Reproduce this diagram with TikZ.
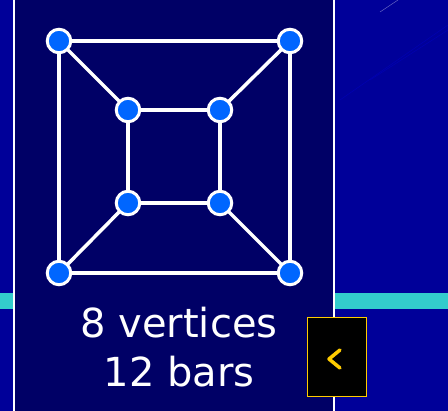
\documentclass[tikz,border=0pt]{standalone}
\usepackage{fontspec}
\setmainfont{DejaVu Sans}
\usetikzlibrary{backgrounds}
\pgfdeclarelayer{bottom}
\pgfsetlayers{bottom,background,main}
\definecolor{bgblue}{HTML}{000099}
\definecolor{panelblue}{HTML}{000066}
\definecolor{vertexblue}{HTML}{0066FF}
\definecolor{bandcyan}{HTML}{33CCCC}
\definecolor{btnyellow}{HTML}{FFCC00}
\tikzset{
  vertex/.style={circle,fill=vertexblue,draw=white,line width=3pt,minimum size=23.5pt,inner sep=0pt},
  bar/.style={draw=white,line width=3.5pt},
  caption/.style={text=white,font=\fontsize{40}{49}\selectfont,align=center}
}
\begin{document}
\begin{tikzpicture}[x=1pt,y=-1pt]
  \useasboundingbox (0,0) rectangle (448,411);
  \begin{pgfonlayer}{bottom}
    % 背景
    \fill[bgblue] (0,0) rectangle (448,411);
    \draw[blue!25!bgblue,line width=0.5pt] (340,100) -- (448,25);
    \draw[blue!25!bgblue,line width=0.5pt] (370,80) -- (448,30);
    \draw[white!40!bgblue,line width=0.5pt] (380,12) -- (398,0);
    % 青色横条
    \fill[bandcyan] (0,293) rectangle (448,309);
    % 面板
    \fill[panelblue] (14,0) rectangle (334,411);
    \draw[white,line width=1.5pt] (14,0) -- (14,411);
    \draw[white,line width=1.5pt] (334,0) -- (334,411);
  \end{pgfonlayer}
  % 顶点
  \node[vertex] (o1) at (59,41) {};
  \node[vertex] (o2) at (290,41) {};
  \node[vertex] (o3) at (290,273) {};
  \node[vertex] (o4) at (59,273) {};
  \node[vertex] (i1) at (128,110) {};
  \node[vertex] (i2) at (220,110) {};
  \node[vertex] (i3) at (220,203) {};
  \node[vertex] (i4) at (128,203) {};
  % 杆
  \begin{pgfonlayer}{background}
    \draw[bar] (o1.center) -- (o2.center) -- (o3.center) -- (o4.center) -- cycle;
    \draw[bar] (i1.center) -- (i2.center) -- (i3.center) -- (i4.center) -- cycle;
    \foreach \k in {1,...,4}
      \draw[bar] (o\k.center) -- (i\k.center);
  \end{pgfonlayer}
  % 文字
  \node[caption] (cap) at (179,347) {8 vertices\\12 bars};
  % 按钮
  \node[draw=btnyellow,fill=black,line width=1.8pt,minimum width=59pt,minimum height=79pt,inner sep=0pt] (btn) at (337,357) {};
  \draw[btnyellow,line width=3.5pt,line cap=round,line join=round] (340,350) -- (329,359) -- (340,368);
\end{tikzpicture}
\end{document}
